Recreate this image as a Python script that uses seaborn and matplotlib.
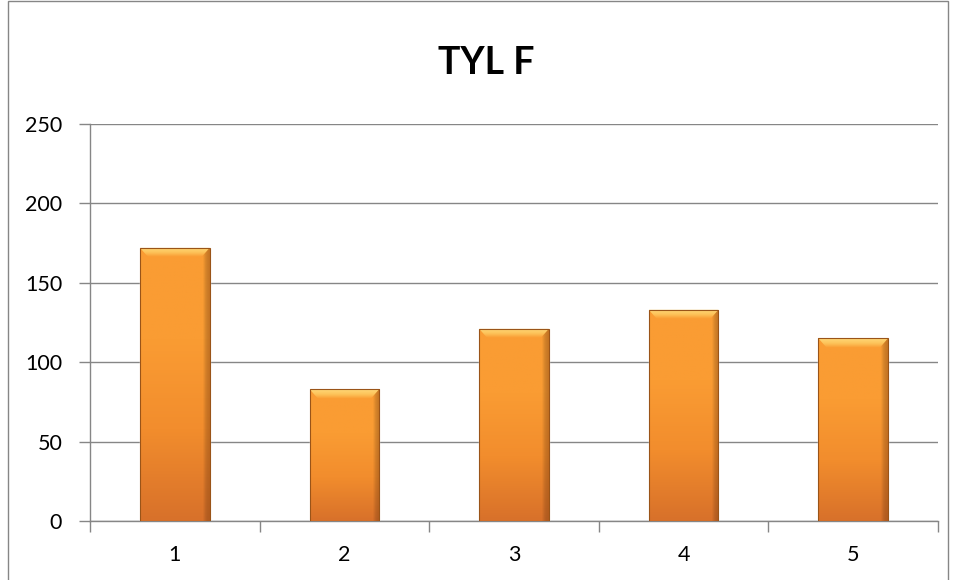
import numpy as np
import matplotlib
matplotlib.use('Agg')
import matplotlib.pyplot as plt
import matplotlib.patches as mpatches
from matplotlib.colors import LinearSegmentedColormap
import seaborn as sns

# data
title = 'TYL F'
categories = ['1', '2', '3', '4', '5']
values = [172, 83, 121, 133, 115]
y_ticks = [0, 50, 100, 150, 200, 250]

sns.set_theme(style='white')
plt.rcParams['font.family'] = ['Lato', 'DejaVu Sans']

fig = plt.figure(figsize=(9.57, 5.8), dpi=100)
ax = fig.add_axes([90 / 957, 59 / 580, 848 / 957, 397 / 580])

sns.barplot(x=categories, y=values, color='#F7962F', width=0.41,
            saturation=1, ax=ax, zorder=3)

# gradient fill clipped to each bar, with a light bevel on top
grad = LinearSegmentedColormap.from_list('bar', ['#D8712A', '#F28D2D', '#FA9C33', '#FA9C33'])
side = LinearSegmentedColormap.from_list('side', ['#00000000', '#00000000', '#7A3A0C66'])
bev = LinearSegmentedColormap.from_list('bev', ['#FA9C33', '#FDC55C', '#FFD778'])
for p in ax.patches:
    x, w, h = p.get_x(), p.get_width(), p.get_height()
    img = np.linspace(0, 1, 100).reshape(-1, 1)
    im = ax.imshow(img, cmap=grad, origin='lower', aspect='auto',
                   extent=[x, x + w, 0, h], zorder=4)
    im.set_clip_path(p)
    edge = np.concatenate([np.zeros(80), np.linspace(0, 1, 20)]).reshape(1, -1)
    im2 = ax.imshow(edge, cmap=side, origin='lower', aspect='auto',
                    extent=[x, x + w, 0, h], zorder=5)
    im2.set_clip_path(p)
    dx, dy = w * 0.12, 6
    bevel = mpatches.Polygon([[x, h], [x + w, h], [x + w - dx, h - dy], [x + dx, h - dy]],
                             closed=True, facecolor='none', edgecolor='none', zorder=6)
    ax.add_patch(bevel)
    im3 = ax.imshow(np.linspace(0, 1, 20).reshape(-1, 1), cmap=bev, origin='lower',
                    aspect='auto', extent=[x, x + w, h - dy, h], zorder=6)
    im3.set_clip_path(bevel)
    ax.add_patch(mpatches.Rectangle((x, 0), w, h, fill=False, edgecolor='#9A5418',
                                    linewidth=0.8, zorder=7))

ax.set_xlim(-0.5, len(categories) - 0.5)
ax.set_ylim(0, 250)
ax.set_yticks(y_ticks)
ax.yaxis.grid(True, color='#868686', linewidth=1)
ax.set_axisbelow(True)

ax.set_xticks(range(len(categories)))
ax.set_xticklabels(categories)
ax.set_xticks(np.arange(-0.5, len(categories)), minor=True)
ax.tick_params(axis='x', which='major', length=0, pad=17, labelsize=15.5, colors='black')
ax.tick_params(axis='x', which='minor', length=8, width=1, color='#868686', direction='out', bottom=True)
ax.tick_params(axis='y', length=8, width=1, color='#868686', direction='out', left=True,
               pad=12, labelsize=15.5, labelcolor='black')

for s in ['top', 'right']:
    ax.spines[s].set_visible(False)
for s in ['left', 'bottom']:
    ax.spines[s].set_color('#868686')
    ax.spines[s].set_linewidth(1)
ax.set_xlabel('')
ax.set_ylabel('')

fig.text(486 / 957, 1 - 63 / 580, title, ha='center', va='center',
         fontsize=27, fontweight='bold', color='black')

# chart frame
fig.patches.append(mpatches.Rectangle((8 / 957, -0.05), 940 / 957, 1.05 - 1.5 / 580,
                                      transform=fig.transFigure, fill=False,
                                      edgecolor='#868686', linewidth=1))

fig.savefig('out.png', dpi=100)
